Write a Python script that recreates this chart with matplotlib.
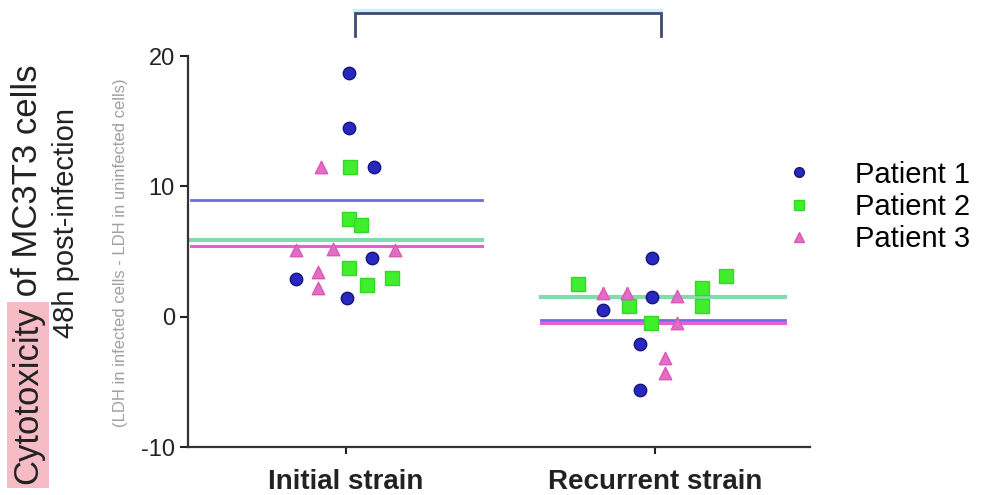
import matplotlib
matplotlib.use("Agg")
import matplotlib.pyplot as plt
from matplotlib.lines import Line2D

plt.rcParams['font.family'] = ['Liberation Sans', 'DejaVu Sans']
plt.rcParams['axes.unicode_minus'] = False

groups = ['Initial strain', 'Recurrent strain']
patients = ['Patient 1', 'Patient 2', 'Patient 3']

# cytotoxicity values, per patient and strain
p1_initial = [18.7, 14.5, 11.5, 4.5, 2.9, 1.4]
p2_initial = [11.5, 7.5, 7.0, 3.7, 2.4, 3.0]
p3_initial = [11.5, 5.1, 5.2, 5.1, 3.4, 2.2]
p1_recurrent = [4.5, 1.5, 0.5, -2.1, -5.6]
p2_recurrent = [2.5, 0.85, 2.2, 0.85, 3.1, -0.5]
p3_recurrent = [1.8, 1.8, 1.6, -0.5, -3.2, -4.3]

# horizontal scatter offsets of each point (category units)
p1_initial_dx = [0.01, 0.01, 0.09, 0.085, -0.16, 0.005]
p2_initial_dx = [0.015, 0.01, 0.05, 0.01, 0.07, 0.15]
p3_initial_dx = [-0.08, -0.16, -0.04, 0.16, -0.09, -0.09]
p1_recurrent_dx = [-0.01, -0.01, -0.17, -0.05, -0.05]
p2_recurrent_dx = [-0.25, -0.085, 0.15, 0.15, 0.23, -0.015]
p3_recurrent_dx = [-0.17, -0.09, 0.07, 0.07, 0.03, 0.03]

data = {
    'Patient 1': [(p1_initial, p1_initial_dx), (p1_recurrent, p1_recurrent_dx)],
    'Patient 2': [(p2_initial, p2_initial_dx), (p2_recurrent, p2_recurrent_dx)],
    'Patient 3': [(p3_initial, p3_initial_dx), (p3_recurrent, p3_recurrent_dx)],
}

styles = {
    'Patient 1': dict(marker='o', color='#2828c0', edge='#15157a', s=80, line='#6058e6', lw=2.0),
    'Patient 2': dict(marker='s', color='#40ee2e', edge='#34d826', s=95, line='#74d6a4', lw=3.0),
    'Patient 3': dict(marker='^', color='#e46cc4', edge='#d85ab8', s=80, line='#e050d0', lw=2.2),
}
mean_span = [(-0.5, 0.44), (-0.37, 0.42)]

fig = plt.figure(figsize=(9.85, 4.95), dpi=100)
ax = fig.add_axes([188 / 985, 48 / 495, 622 / 985, 391 / 495])

for name in patients:
    st = styles[name]
    for gi, (vals, dx) in enumerate(data[name]):
        xs = [gi + d for d in dx]
        ax.scatter(xs, vals, marker=st['marker'], s=st['s'], c=st['color'],
                   edgecolors=st['edge'], linewidths=1, zorder=3)

# group means
for name in patients:
    st = styles[name]
    for gi, (vals, dx) in enumerate(data[name]):
        m = sum(vals) / len(vals)
        a, b = mean_span[gi]
        ax.plot([gi + a, gi + b], [m, m], color=st['line'], lw=st['lw'], zorder=2,
                alpha=0.9)

# significance bracket above the plot
bx = [0.03, 0.03, 1.02, 1.02]
by = [21.5, 23.3, 23.3, 21.5]
ax.plot(bx[1:3], [23.45, 23.45], color='#cdeefa', lw=3, clip_on=False)
ax.plot(bx, by, color='#3c4c70', lw=2, clip_on=False, solid_joinstyle='miter')

ax.set_xlim(-0.51, 1.5)
ax.set_ylim(-10, 20)
ax.set_yticks([-10, 0, 10, 20])
ax.set_xticks([0, 1])
ax.set_xticklabels(groups, fontsize=20, fontweight='bold', color='#222222')
ax.tick_params(axis='y', labelsize=17, length=6, width=1.5, colors='#222222')
ax.tick_params(axis='x', length=5, width=1.5, pad=11, colors='#222222')
for s in ['top', 'right']:
    ax.spines[s].set_visible(False)
for s in ['left', 'bottom']:
    ax.spines[s].set_linewidth(1.6)
    ax.spines[s].set_color('#333333')

# y-axis label: three rotated lines, first word highlighted
t1 = fig.text(28 / 985, 1 - 484 / 495, 'Cytotoxicity', rotation=90, fontsize=25,
              ha='center', va='bottom', color='#222222',
              bbox=dict(facecolor='#f6bcc6', edgecolor='none', pad=3))
ax.annotate(' of MC3T3 cells', xy=(0.5, 1.0), xycoords=t1, rotation=90, fontsize=25,
            ha='center', va='bottom', color='#222222', annotation_clip=False)
fig.text(66 / 985, 1 - 223 / 495, '48h post-infection', rotation=90, fontsize=21,
         ha='center', va='center', color='#222222')
fig.text(121 / 985, 1 - 253 / 495, '(LDH in infected cells - LDH in uninfected cells)',
         rotation=90, fontsize=12, ha='center', va='center', color='#a0a0a0')

handles = [Line2D([], [], linestyle='none', marker=styles[n]['marker'],
                  markersize=7, markerfacecolor=styles[n]['color'],
                  markeredgecolor=styles[n]['edge']) for n in patients]
fig.legend(handles, patients, loc='center left', bbox_to_anchor=(770 / 985, 0.582),
           frameon=False, fontsize=21, handlelength=1.0, handletextpad=1.4,
           labelspacing=0.15, borderpad=0)

fig.savefig('out.png', dpi=100)
